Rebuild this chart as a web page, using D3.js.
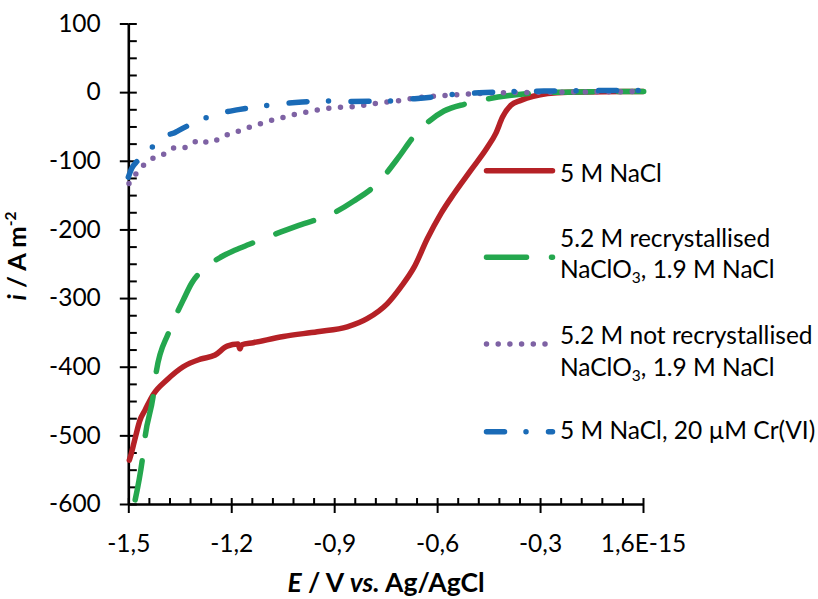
<!DOCTYPE html>
<html>
<head>
<meta charset="utf-8">
<script src="https://cdn.jsdelivr.net/npm/d3@7"></script>
<style>
  html, body { margin: 0; padding: 0; background: #fff; }
  svg { display: block; font-family: Lato, "Open Sans", sans-serif; }
</style>
</head>
<body>
<svg id="chart" width="818" height="599"></svg>
<script>
// Linear sweep voltammograms: current density i (A m^-2) vs potential E (V vs. Ag/AgCl)

const xTickValues = [-1.5, -1.2, -0.9, -0.6, -0.3, 0];
const xTickLabels = ["-1,5", "-1,2", "-0,9", "-0,6", "-0,3", "1,6E-15"];
const yTickValues = [100, 0, -100, -200, -300, -400, -500, -600];
const yTickLabels = ["100", "0", "-100", "-200", "-300", "-400", "-500", "-600"];

// [E, i] pairs per electrolyte
const nacl5 = [
  [-1.497, -536], [-1.492, -528], [-1.486, -516], [-1.478, -500], [-1.466, -478],
  [-1.451, -463], [-1.428, -441], [-1.387, -419], [-1.340, -400], [-1.290, -389],
  [-1.247, -383], [-1.212, -370], [-1.180, -367], [-1.175, -374], [-1.169, -368],
  [-1.136, -365], [-1.048, -356], [-0.949, -349], [-0.862, -342], [-0.804, -330],
  [-0.745, -308], [-0.706, -284], [-0.667, -255], [-0.628, -213], [-0.589, -177],
  [-0.551, -148], [-0.502, -114], [-0.453, -80], [-0.429, -60], [-0.409, -36],
  [-0.385, -19], [-0.356, -12], [-0.278, -2], [-0.219, 0], [0, 1]
];

const recrystChlorate = [
  [-1.480, -594], [-1.458, -531], [-1.451, -502], [-1.427, -441], [-1.419, -409],
  [-1.383, -351], [-1.361, -325], [-1.340, -303], [-1.315, -278], [-1.273, -255],
  [-1.222, -238], [-1.188, -230], [-1.149, -222], [-1.057, -204], [-1.003, -194],
  [-0.901, -176], [-0.844, -159], [-0.774, -133], [-0.711, -94], [-0.672, -67],
  [-0.580, -27.5], [-0.516, -17], [-0.390, -5], [-0.239, 0], [0.002, 1]
];

const crudeChlorate = [
  [-1.498, -133], [-1.490, -126], [-1.471, -116], [-1.453, -105], [-1.437, -99],
  [-1.412, -92], [-1.388, -89], [-1.364, -81], [-1.344, -82], [-1.317, -76],
  [-1.288, -69], [-1.266, -74], [-1.235, -68], [-1.203, -60], [-1.172, -56],
  [-1.142, -50], [-1.109, -45], [-1.076, -40], [-1.042, -36], [-1.011, -32],
  [-0.979, -29], [-0.945, -25.5], [-0.911, -23], [-0.843, -21], [-0.789, -17],
  [-0.721, -13], [-0.653, -8], [-0.514, -3], [-0.449, -1.3], [-0.239, 0], [0.002, 1]
];

const naclChromate = [
  [-1.500, -124], [-1.490, -111], [-1.473, -100], [-1.440, -85], [-1.393, -63],
  [-1.369, -60], [-1.354, -56], [-1.297, -42], [-1.235, -31], [-1.179, -25.5],
  [-1.115, -20.5], [-1.047, -16.5], [-0.993, -14.4], [-0.927, -13], [-0.857, -13.5],
  [-0.735, -13], [-0.665, -9.5], [-0.599, -6.5], [-0.546, -3], [-0.478, -1],
  [-0.409, 0.5], [-0.289, 1.5], [0.002, 2.5]
];

const seriesNames = [
  ["5 M NaCl"],
  ["5.2 M recrystallised", "NaClO|3|, 1.9 M NaCl"],
  ["5.2 M not recrystallised", "NaClO|3|, 1.9 M NaCl"],
  ["5 M NaCl, 20 \u00B5M Cr(VI)"]
];

const series = [
  { data: nacl5,           color: "#B52126", dash: null },
  { data: recrystChlorate, color: "#24A74E", dash: "40 25" },
  { data: crudeChlorate,   color: "#7E62A4", dash: "0 11.7" },
  { data: naclChromate,    color: "#1A6BB7", dash: "18 21.5 0 22.5" }
];

const svg = d3.select("#chart");
const FONT = 24.5;

const x = d3.scaleLinear().domain([-1.5, 0]).range([128.3, 643]);
const y = d3.scaleLinear().domain([-600, 100]).range([504, 23.5]);

// ---- axes ----
function styleAxis(g, width) {
  g.select(".domain").attr("stroke", "#000").attr("stroke-width", width);
  g.selectAll(".tick line").attr("stroke", "#000").attr("stroke-width", 2);
  g.selectAll(".tick text").attr("fill", "#000").attr("font-size", FONT)
    .attr("font-family", "Lato, 'Open Sans', sans-serif");
}

// y: minor ticks inward, major ticks crossing the axis
const yMinor = d3.range(0, 29).map(k => -600 + k * 25);
svg.append("g")
  .attr("transform", `translate(${x(-1.5)},0)`)
  .call(d3.axisRight(y).tickValues(yMinor).tickSize(8.5).tickFormat(""))
  .call(g => g.select(".domain").remove())
  .call(g => styleAxis(g, 2.5));
svg.append("g")
  .attr("transform", `translate(${x(-1.5)},0)`)
  .call(d3.axisLeft(y).tickValues(yTickValues)
    .tickFormat(d => yTickLabels[yTickValues.indexOf(d)])
    .tickSizeInner(8.5).tickSizeOuter(0).tickPadding(19))
  .call(g => styleAxis(g, 2.6));

// x: same arrangement along the bottom
const xMinor = d3.range(0, 26).map(k => -1.5 + k * 0.06);
svg.append("g")
  .attr("transform", `translate(0,${y(-600)})`)
  .call(d3.axisTop(x).tickValues(xMinor).tickSize(6).tickFormat(""))
  .call(g => g.select(".domain").remove())
  .call(g => styleAxis(g, 2.5));
svg.append("g")
  .attr("transform", `translate(0,${y(-600)})`)
  .call(d3.axisBottom(x).tickValues(xTickValues)
    .tickFormat(d => xTickLabels[xTickValues.indexOf(d)])
    .tickSizeInner(9).tickSizeOuter(0).tickPadding(21.5))
  .call(g => styleAxis(g, 2.6));

// ---- curves ----
const line = d3.line()
  .x(d => x(d[0]))
  .y(d => y(d[1]))
  .curve(d3.curveMonotoneX);

const plot = svg.append("g").attr("fill", "none");
series.forEach(s => {
  plot.append("path")
    .attr("d", line(s.data))
    .attr("stroke", s.color)
    .attr("stroke-width", 5.5)
    .attr("stroke-linecap", "round")
    .attr("stroke-linejoin", "round")
    .attr("stroke-dasharray", s.dash);
});

// ---- legend ----
const legendRows = [
  { lineY: 170.7, textY: [181.7] },
  { lineY: 257.3, textY: [246.7, 278.3] },
  { lineY: 344,   textY: [344, 376] },
  { lineY: 431.7, textY: [439] }
];
const legend = svg.append("g");
legendRows.forEach((r, k) => {
  const s = series[k];
  legend.append("line")
    .attr("x1", 486.5).attr("x2", 552.5)
    .attr("y1", r.lineY).attr("y2", r.lineY)
    .attr("stroke", s.color)
    .attr("stroke-width", 5.5)
    .attr("stroke-linecap", "round")
    .attr("stroke-dasharray", s.dash);
  seriesNames[k].forEach((txt, j) => {
    const t = legend.append("text")
      .attr("x", 560).attr("y", r.textY[j])
      .attr("font-size", FONT).attr("fill", "#000");
    const parts = txt.split("|");
    if (parts.length === 1) {
      t.text(txt);
    } else {
      t.append("tspan").text(parts[0]);
      t.append("tspan").attr("font-size", 15.5).attr("dy", 5).text(parts[1]);
      t.append("tspan").attr("dy", -5).text(parts[2]);
    }
  });
});

// ---- axis titles ----
const xTitle = svg.append("text")
  .attr("x", 386).attr("y", 592)
  .attr("text-anchor", "middle")
  .attr("font-size", 26.5).attr("font-weight", "bold").attr("fill", "#000");
xTitle.append("tspan").attr("font-style", "italic").text("E");
xTitle.append("tspan").text(" / V ");
xTitle.append("tspan").attr("font-style", "italic").text("vs.");
xTitle.append("tspan").text(" Ag/AgCl");

const yTitle = svg.append("text")
  .attr("transform", "translate(26,256) rotate(-90)")
  .attr("text-anchor", "middle")
  .attr("font-size", 25.5).attr("font-weight", "bold").attr("fill", "#000");
yTitle.append("tspan").attr("font-style", "italic").text("i");
yTitle.append("tspan").text(" / A m");
yTitle.append("tspan").attr("font-size", 15.5).attr("dy", -10).text("-2");
</script>
</body>
</html>
